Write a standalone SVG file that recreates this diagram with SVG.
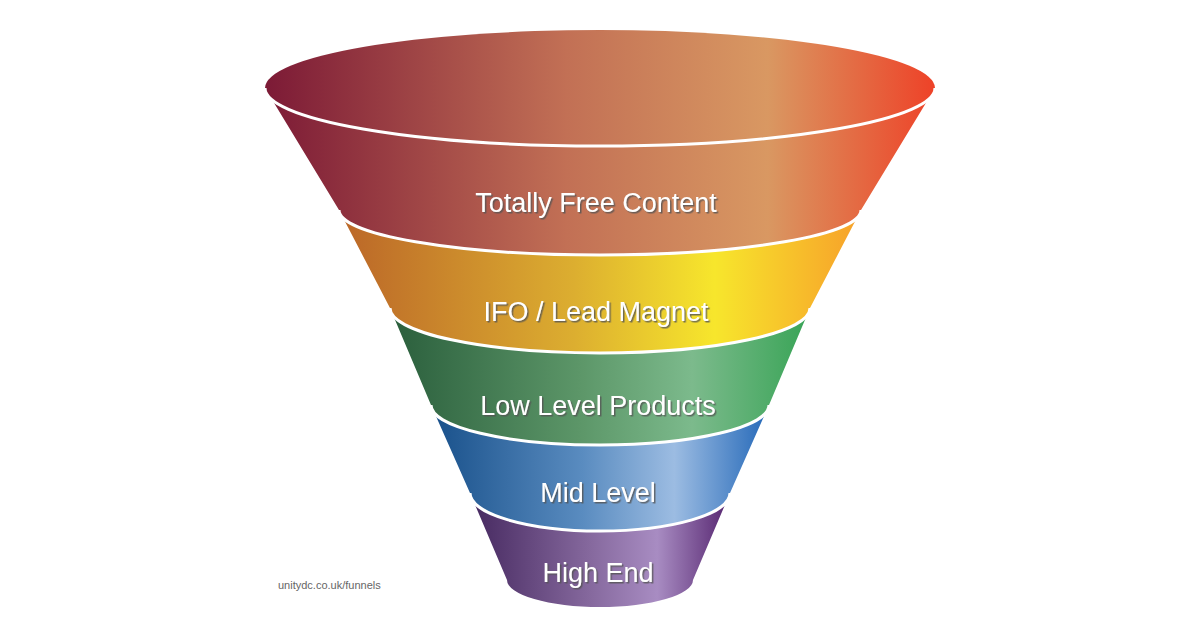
<svg xmlns="http://www.w3.org/2000/svg" width="1200" height="628" viewBox="0 0 1200 628">
<style>
.lbl{font-family:"Liberation Sans",Arial,sans-serif;font-size:27px;fill:#fff;text-anchor:middle;filter:url(#sh)}
.rim{fill:none;stroke:#fff;stroke-width:3}
</style>
<defs>
<filter id="sh" x="-10%" y="-30%" width="120%" height="160%"><feDropShadow dx="1.5" dy="1.5" stdDeviation="0.6" flood-color="#555" flood-opacity="0.8"/></filter>
<linearGradient id="gR" x1="0" x2="1"><stop offset="0" stop-color="#7c1a36"/><stop offset="0.45" stop-color="#c27055"/><stop offset="0.75" stop-color="#d99862"/><stop offset="1" stop-color="#ee4228"/></linearGradient>
<linearGradient id="gO" x1="0" x2="1"><stop offset="0" stop-color="#bb6628"/><stop offset="0.45" stop-color="#dcae30"/><stop offset="0.72" stop-color="#f7e62c"/><stop offset="1" stop-color="#f7a02a"/></linearGradient>
<linearGradient id="gG" x1="0" x2="1"><stop offset="0" stop-color="#2a5e3c"/><stop offset="0.45" stop-color="#5c9668"/><stop offset="0.72" stop-color="#7cba8c"/><stop offset="1" stop-color="#38a456"/></linearGradient>
<linearGradient id="gB" x1="0" x2="1"><stop offset="0" stop-color="#18508a"/><stop offset="0.45" stop-color="#5a8cc0"/><stop offset="0.72" stop-color="#9cbce2"/><stop offset="1" stop-color="#2468b8"/></linearGradient>
<linearGradient id="gP" x1="0" x2="1"><stop offset="0" stop-color="#45285f"/><stop offset="0.45" stop-color="#84679c"/><stop offset="0.72" stop-color="#a88cc2"/><stop offset="1" stop-color="#55246f"/></linearGradient>
</defs>
<g id="band5"><path d="M470,493 L507,580 A93,27 0 0 0 693,580 L730,493 A128,37 0 0 1 470,493 Z" fill="url(#gP)"/></g>
<g id="band4"><path d="M431,405 L470,493 A130,38 0 0 0 730,493 L769,405 A169,40 0 0 1 431,405 Z" fill="url(#gB)"/></g>
<g id="band3"><path d="M390,308 L431,405 A169,40 0 0 0 769,405 L810,308 A210,45 0 0 1 390,308 Z" fill="url(#gG)"/></g>
<g id="band2"><path d="M339,210 L390,308 A210,45 0 0 0 810,308 L861,210 A261,45 0 0 1 339,210 Z" fill="url(#gO)"/></g>
<g id="band1"><path d="M265,88 L339,210 A261,45 0 0 0 861,210 L935,88 A335,58 0 0 1 265,88 Z" fill="url(#gR)"/></g>
<g id="top"><ellipse cx="600" cy="88" rx="335" ry="58" fill="url(#gR)"/></g>
<g id="rims">
<path class="rim" d="M265,88 A335,58 0 0 0 935,88"/>
<path class="rim" d="M339,210 A261,45 0 0 0 861,210"/>
<path class="rim" d="M390,308 A210,45 0 0 0 810,308"/>
<path class="rim" d="M431,405 A169,40 0 0 0 769,405"/>
<path class="rim" d="M470,493 A130,38 0 0 0 730,493"/>
</g>
<g id="labels">
<text class="lbl" x="596" y="212">Totally Free Content</text>
<text class="lbl" x="596" y="321">IFO / Lead Magnet</text>
<text class="lbl" x="598" y="415">Low Level Products</text>
<text class="lbl" x="598" y="502">Mid Level</text>
<text class="lbl" x="598" y="582">High End</text>
</g>
<text x="278" y="589" font-family="Liberation Sans,Arial,sans-serif" font-size="11" fill="#666">unitydc.co.uk/funnels</text>
</svg>
